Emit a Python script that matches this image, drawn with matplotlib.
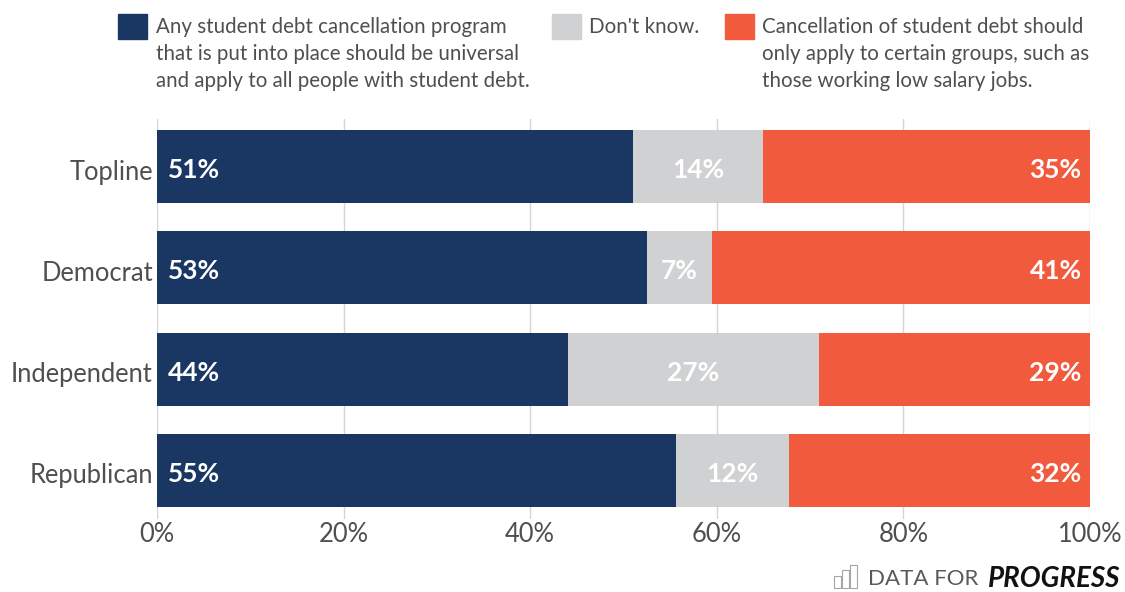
import matplotlib
matplotlib.use('Agg')
import matplotlib.pyplot as plt
from matplotlib.patches import Rectangle
from matplotlib.transforms import ScaledTranslation

plt.rcParams['font.family'] = ['Lato', 'DejaVu Sans']

groups = ['Topline', 'Democrat', 'Independent', 'Republican']
universal = [51, 52.5, 44, 55.6]
dont_know = [14, 7, 27, 12.1]
certain = [35, 40.5, 29, 32.3]
universal_labels = ['51%', '53%', '44%', '55%']
dont_know_labels = ['14%', '7%', '27%', '12%']
certain_labels = ['35%', '41%', '29%', '32%']
ticks = [0, 20, 40, 60, 80, 100]

legend_universal = ('Any student debt cancellation program\n'
                    'that is put into place should be universal\n'
                    'and apply to all people with student debt.')
legend_dont_know = "Don't know."
legend_certain = ('Cancellation of student debt should\n'
                  'only apply to certain groups, such as\n'
                  'those working low salary jobs.')

navy = '#1a3764'
grey = '#cfd1d2'
orange = '#f15a3c'
text_col = '#4f4f4f'

W, H = 1125, 592
fig = plt.figure(figsize=(W / 100, H / 100), dpi=100)
ax = fig.add_axes([157 / W, 1 - 519 / H, 933 / W, 400 / H])

y = list(range(len(groups)))
left2 = universal
left3 = [a + b for a, b in zip(universal, dont_know)]
ax.barh(y, universal, height=0.72, color=navy, zorder=3)
ax.barh(y, dont_know, left=left2, height=0.72, color=grey, zorder=3)
ax.barh(y, certain, left=left3, height=0.72, color=orange, zorder=3)

for i in y:
    ax.text(1.2, i + 0.035, universal_labels[i], color='white', fontsize=19,
            fontweight='bold', va='center', ha='left', zorder=4)
    ax.text(left2[i] + dont_know[i] / 2, i + 0.035, dont_know_labels[i], color='white',
            fontsize=19, fontweight='bold', va='center', ha='center', zorder=4)
    ax.text(99.1, i + 0.035, certain_labels[i], color='white', fontsize=19,
            fontweight='bold', va='center', ha='right', zorder=4)

ax.set_xlim(0, 100)
ax.set_ylim(3.48, -0.469)
ax.set_yticks(y)
ax.set_yticklabels(groups, fontsize=18.4, color=text_col)
ax.set_xticks(ticks)
ax.set_xticklabels([f'{t}%' for t in ticks], fontsize=18.4, color=text_col)
ax.tick_params(length=0)
ax.tick_params(axis='y', pad=3)
ax.tick_params(axis='x', pad=2)
ax.grid(axis='x', color='#d5d5d5', lw=1, zorder=0)
for s in ax.spines.values():
    s.set_visible(False)

# labels sit a bit below the bar centres
shift = ScaledTranslation(0, -3 / 100, fig.dpi_scale_trans)
for lbl in ax.get_yticklabels():
    lbl.set_transform(lbl.get_transform() + shift)


def legend_item(x, top, col, txt, tx):
    fig.add_artist(Rectangle((x / W, 1 - (top + 25) / H), 29 / W, 25 / H,
                             color=col, transform=fig.transFigure))
    fig.text(tx / W, 1 - (top + 3) / H, txt, fontsize=14.8, color=text_col,
             va='top', ha='left', linespacing=1.44)


legend_item(118, 14, navy, legend_universal, 156)
legend_item(552, 14, grey, legend_dont_know, 589)
legend_item(725, 14, orange, legend_certain, 762)

# logo
for lx, lh in zip([834, 842, 850], [12, 18, 23]):
    fig.add_artist(Rectangle((lx / W, 1 - 588 / H), 7 / W, lh / H, fill=False,
                             ec='#a5a5a5', lw=0.8, transform=fig.transFigure))
fig.text(868 / W, 1 - 579 / H, 'DATA FOR', fontsize=16, color='#5a5a5a',
         va='center', ha='left')
fig.text(1120 / W, 1 - 579 / H, 'PROGRESS', fontsize=20, color='#111111',
         va='center', ha='right', fontweight='bold', style='italic')

fig.savefig('out.png', dpi=100)
